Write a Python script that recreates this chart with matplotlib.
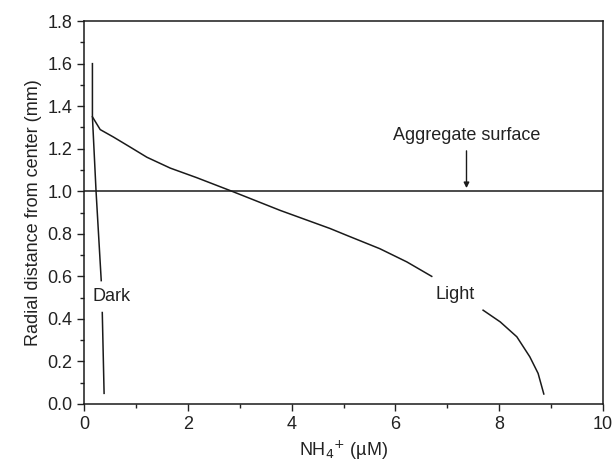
import matplotlib
matplotlib.use("Agg")
import matplotlib.pyplot as plt
import numpy as np
from matplotlib.ticker import MultipleLocator

plt.rcParams.update({
    "font.family": ["Liberation Sans", "DejaVu Sans"],
    "font.size": 13,
    "text.color": "#222222",
    "axes.labelcolor": "#222222",
    "xtick.color": "#222222",
    "ytick.color": "#222222",
})

# NH4+ (uM) vs radial distance (mm); NaN marks gap for label
dark_x = [0.16, 0.16, 0.23, 0.33, np.nan, 0.35, 0.385]
dark_y = [1.60, 1.35, 1.00, 0.58, np.nan, 0.43, 0.05]

light_x = [0.16, 0.31, 0.565, 0.886, 1.21, 1.66, 2.17, 2.85, 3.78, 4.74,
           5.06, 5.70, 6.22, 6.70,
           np.nan, 7.69, 8.02, 8.34, 8.59, 8.75, 8.86]
light_y = [1.35, 1.29, 1.255, 1.208, 1.16, 1.109, 1.064, 1.00, 0.91, 0.825,
           0.793, 0.73, 0.668, 0.60,
           np.nan, 0.441, 0.386, 0.316, 0.222, 0.144, 0.047]

surface_y = 1.0

fig = plt.figure(figsize=(6.14, 4.69), dpi=100)
ax = fig.add_axes([0.137, 0.1386, 0.845, 0.8164])

line_kw = dict(color="#1a1a1a", linewidth=1.1)
ax.plot(dark_x, dark_y, **line_kw)
ax.plot(light_x, light_y, **line_kw)
ax.axhline(surface_y, **line_kw)

ax.text(0.53, 0.507, "Dark", ha="center", va="center")
ax.text(7.15, 0.515, "Light", ha="center", va="center")
ax.text(7.37, 1.263, "Aggregate surface", ha="center", va="center")
ax.annotate("", xy=(7.37, 1.015), xytext=(7.37, 1.19),
            arrowprops=dict(arrowstyle="-|>", color="#1a1a1a", lw=1.0,
                            mutation_scale=8, shrinkA=0, shrinkB=0))

ax.set_xlim(0, 10)
ax.set_ylim(0, 1.8)
ax.xaxis.set_major_locator(MultipleLocator(2))
ax.xaxis.set_minor_locator(MultipleLocator(1))
ax.yaxis.set_major_locator(MultipleLocator(0.2))
ax.yaxis.set_minor_locator(MultipleLocator(0.1))
ax.yaxis.set_major_formatter(plt.FuncFormatter(lambda v, _: f"{v:.1f}"))
ax.tick_params(which="both", direction="out", width=1.0)
ax.tick_params(which="major", length=5)
ax.tick_params(which="minor", length=3)
for s in ax.spines.values():
    s.set_linewidth(1.1)
    s.set_color("#1a1a1a")

ax.set_xlabel("NH$_4$$^{+}$ (\u00b5M)")
ax.set_ylabel("Radial distance from center (mm)")

fig.savefig("out.png", dpi=100)
